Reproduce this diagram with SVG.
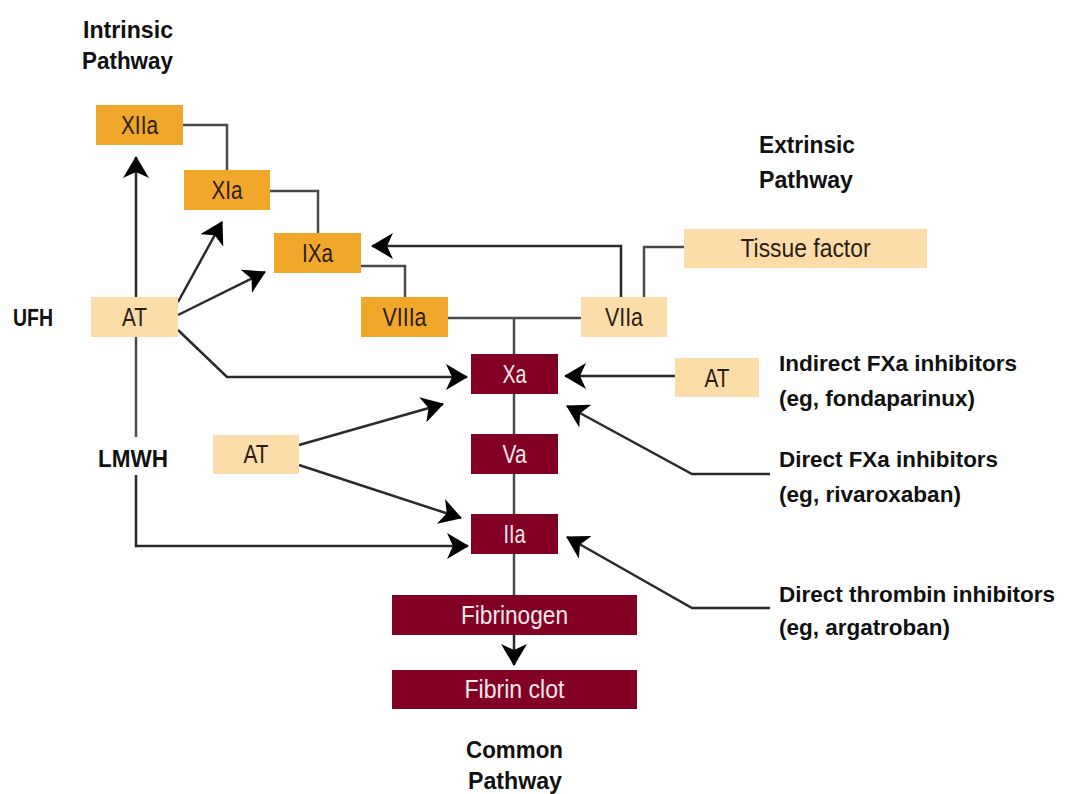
<svg xmlns="http://www.w3.org/2000/svg" width="1080" height="794" viewBox="0 0 1080 794">
  <style>
    .gold { fill: #F1A82A; }
    .peach { fill: #FCDDAA; }
    .maroon { fill: #820024; }
    .lbl { font-family: "Liberation Sans Narrow", "Liberation Sans", Arial, sans-serif; font-size: 25px; text-anchor: middle; }
    .dark { fill: #2b1d12; }
    .light { fill: #F8E6EA; }
    .head { font-family: "Liberation Sans Narrow", "Liberation Sans", Arial, sans-serif; font-size: 24px; font-weight: bold; fill: #111; }
    .inh { font-family: "Liberation Sans Narrow", "Liberation Sans", Arial, sans-serif; font-size: 22px; font-weight: bold; fill: #111; }
    .ln { fill: none; stroke: #4a4a4a; stroke-width: 2.5; }
    .ar { fill: none; stroke: #2a2a2a; stroke-width: 2.5; marker-end: url(#ah); }
  </style>
  <defs>
    <marker id="ah" viewBox="0 0 22 26" refX="21" refY="13" markerWidth="22" markerHeight="26" markerUnits="userSpaceOnUse" orient="auto">
      <path d="M0,0 L22,13 L0,26 L6,13 Z" fill="#000"/>
    </marker>
  </defs>
  <rect width="1080" height="794" fill="#fff"/>

  <g id="connectors">
    <path class="ln" d="M183,125 H227 V170"/>
    <path class="ln" d="M270,191 H318 V233"/>
    <path class="ln" d="M361,266 H405 V297"/>
    <path class="ln" d="M448,318 H581"/>
    <path class="ln" d="M514,318 V354 M514,394 V434 M514,474 V514 M514,554 V595"/>
    <path class="ln" d="M684,247 H644 V297"/>
    <path class="ar" d="M621,297 V246 H372"/>
    <path class="ar" d="M136,297 V157"/>
    <path class="ar" d="M178,302 L222,222"/>
    <path class="ar" d="M178,315 L265,272"/>
    <path class="ar" d="M178,330 L227,377 H467"/>
    <path class="ar" d="M299,445 L443,404"/>
    <path class="ar" d="M299,465 L461,518"/>
    <path class="ln" d="M136,337 V437"/>
    <path class="ar" d="M136,475 V546 H468"/>
    <path class="ar" d="M675,376 H565"/>
    <path class="ar" d="M770,474 H692 L567,406"/>
    <path class="ar" d="M770,608 H692 L567,537"/>
    <path class="ar" d="M514,635 V665"/>
  </g>

  <g id="n-xiia"><rect class="gold" x="96" y="105" width="87" height="40"/><text class="lbl dark" x="139.5" y="134" textLength="37" lengthAdjust="spacingAndGlyphs">XIIa</text></g>
  <g id="n-xia"><rect class="gold" x="184" y="170" width="86" height="40"/><text class="lbl dark" x="227" y="199" textLength="31" lengthAdjust="spacingAndGlyphs">XIa</text></g>
  <g id="n-ixa"><rect class="gold" x="274" y="233" width="87" height="40"/><text class="lbl dark" x="317.5" y="262" textLength="31" lengthAdjust="spacingAndGlyphs">IXa</text></g>
  <g id="n-viiia"><rect class="gold" x="361" y="297" width="87" height="40"/><text class="lbl dark" x="404.5" y="326" textLength="44" lengthAdjust="spacingAndGlyphs">VIIIa</text></g>
  <g id="n-at1"><rect class="peach" x="91" y="297" width="87" height="40"/><text class="lbl dark" x="134.5" y="326" textLength="25" lengthAdjust="spacingAndGlyphs">AT</text></g>
  <g id="n-viia"><rect class="peach" x="581" y="297" width="86" height="40"/><text class="lbl dark" x="624" y="326" textLength="38" lengthAdjust="spacingAndGlyphs">VIIa</text></g>
  <g id="n-tf"><rect class="peach" x="684" y="229" width="243" height="39"/><text class="lbl dark" x="805.5" y="257" textLength="130" lengthAdjust="spacingAndGlyphs">Tissue factor</text></g>
  <g id="n-xa"><rect class="maroon" x="471" y="354" width="87" height="40"/><text class="lbl light" x="514.5" y="383" textLength="24" lengthAdjust="spacingAndGlyphs">Xa</text></g>
  <g id="n-at3"><rect class="peach" x="675" y="358" width="84" height="39"/><text class="lbl dark" x="717" y="387" textLength="25" lengthAdjust="spacingAndGlyphs">AT</text></g>
  <g id="n-at2"><rect class="peach" x="213" y="435" width="86" height="39"/><text class="lbl dark" x="256" y="463" textLength="25" lengthAdjust="spacingAndGlyphs">AT</text></g>
  <g id="n-va"><rect class="maroon" x="471" y="434" width="87" height="40"/><text class="lbl light" x="514.5" y="463" textLength="24" lengthAdjust="spacingAndGlyphs">Va</text></g>
  <g id="n-iia"><rect class="maroon" x="471" y="514" width="87" height="40"/><text class="lbl light" x="514.5" y="543" textLength="22" lengthAdjust="spacingAndGlyphs">IIa</text></g>
  <g id="n-fibrinogen"><rect class="maroon" x="392" y="595" width="245" height="40"/><text class="lbl light" x="514.5" y="624" textLength="107" lengthAdjust="spacingAndGlyphs">Fibrinogen</text></g>
  <g id="n-clot"><rect class="maroon" x="392" y="670" width="245" height="39"/><text class="lbl light" x="514.5" y="698" textLength="100" lengthAdjust="spacingAndGlyphs">Fibrin clot</text></g>

  <g id="labels">
    <text class="head" x="83" y="38" textLength="90" lengthAdjust="spacingAndGlyphs">Intrinsic</text>
    <text class="head" x="82" y="69" textLength="91" lengthAdjust="spacingAndGlyphs">Pathway</text>
    <text class="head" x="759" y="153" textLength="96" lengthAdjust="spacingAndGlyphs">Extrinsic</text>
    <text class="head" x="759" y="188" textLength="94" lengthAdjust="spacingAndGlyphs">Pathway</text>
    <text class="head" x="13" y="326" textLength="40" lengthAdjust="spacingAndGlyphs">UFH</text>
    <text class="head" x="98" y="467" textLength="70" lengthAdjust="spacingAndGlyphs">LMWH</text>
    <text class="head" x="514.5" y="758" text-anchor="middle" textLength="97" lengthAdjust="spacingAndGlyphs">Common</text>
    <text class="head" x="515" y="789" text-anchor="middle" textLength="94" lengthAdjust="spacingAndGlyphs">Pathway</text>
    <text class="inh" x="779" y="371" textLength="238" lengthAdjust="spacingAndGlyphs">Indirect FXa inhibitors</text>
    <text class="inh" x="779" y="406" textLength="196" lengthAdjust="spacingAndGlyphs">(eg, fondaparinux)</text>
    <text class="inh" x="779" y="467" textLength="219" lengthAdjust="spacingAndGlyphs">Direct FXa inhibitors</text>
    <text class="inh" x="779" y="502" textLength="182" lengthAdjust="spacingAndGlyphs">(eg, rivaroxaban)</text>
    <text class="inh" x="779" y="602" textLength="276" lengthAdjust="spacingAndGlyphs">Direct thrombin inhibitors</text>
    <text class="inh" x="779" y="635" textLength="171" lengthAdjust="spacingAndGlyphs">(eg, argatroban)</text>
  </g>
</svg>
